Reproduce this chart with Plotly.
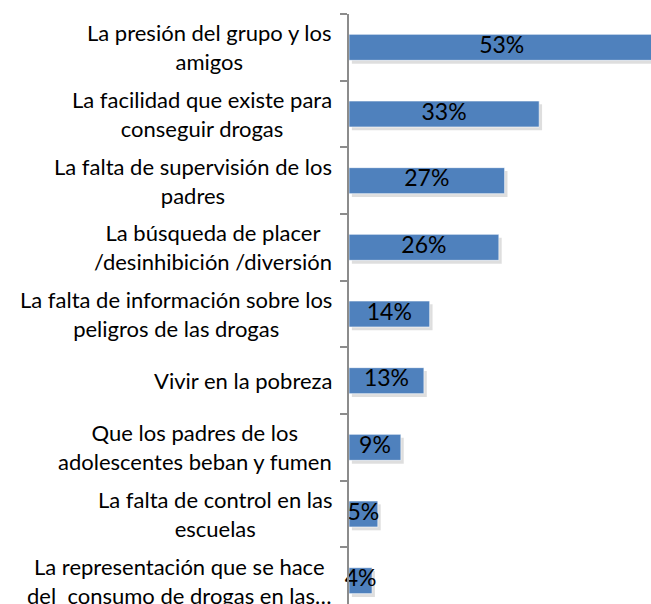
import plotly.graph_objects as go

categories = [
    "La presión del grupo y los<br>amigos",
    "La facilidad que existe para<br>conseguir drogas",
    "La falta de supervisión de los<br>padres",
    "La búsqueda de placer<br>/desinhibición /diversión",
    "La falta de información sobre los<br>peligros de las drogas",
    "Vivir en la pobreza",
    "Que los padres de los<br>adolescentes beban y fumen",
    "La falta de control en las<br>escuelas",
    "La representación que se hace<br>del  consumo de drogas en las…",
]
values = [53, 33, 27, 26, 14, 13, 9, 5, 4]
value_labels = ["53%", "33%", "27%", "26%", "14%", "13%", "9%", "5%", "4%"]

ids = list(range(len(categories)))
FONT = "Lato"

fig = go.Figure()

# soft shadow
fig.add_trace(go.Bar(
    y=ids, x=values, base=0.5, orientation="h",
    marker=dict(color="rgba(0,0,0,0.13)", line=dict(width=0)),
    width=0.39, offset=-0.195 + 0.05, hoverinfo="skip", showlegend=False,
))
fig.add_trace(go.Bar(
    y=ids, x=values, orientation="h",
    marker=dict(color="#4F81BD", line=dict(color="#ffffff", width=0.6)),
    width=0.39, offset=-0.195, showlegend=False,
))
fig.add_trace(go.Scatter(
    y=ids, x=[v / 2 for v in values], mode="text", text=value_labels,
    textfont=dict(family=FONT, size=23, color="#000000"),
    textposition="middle center", cliponaxis=False, showlegend=False,
    hoverinfo="skip",
))

for i, c in enumerate(categories):
    fig.add_annotation(
        xref="paper", x=0, yref="y", y=i, text=c, showarrow=False,
        xanchor="right", yanchor="middle", align="center", xshift=-15,
        font=dict(family=FONT, size=22, color="#000000"),
    )

fig.update_layout(
    width=651, height=604,
    margin=dict(l=349, r=0, t=14, b=0, autoexpand=False),
    paper_bgcolor="white", plot_bgcolor="white",
    barmode="overlay",
    xaxis=dict(range=[0, 52.4], visible=False, showgrid=False, zeroline=False),
    yaxis=dict(
        type="linear",
        range=[8.35, -0.5], showticklabels=False, showgrid=False, zeroline=False,
        showline=True, linecolor="#8c8c8c", linewidth=1.5,
        ticks="outside", ticklen=7, tickcolor="#8c8c8c", tickwidth=1.5,
        tickmode="array", tickvals=[i - 0.5 for i in range(len(categories) + 1)],
    ),
)

fig.write_html(
    "out.html",
    config={"displayModeBar": False},
    post_script="document.body.style.margin='0';document.body.style.overflow='hidden';",
)
